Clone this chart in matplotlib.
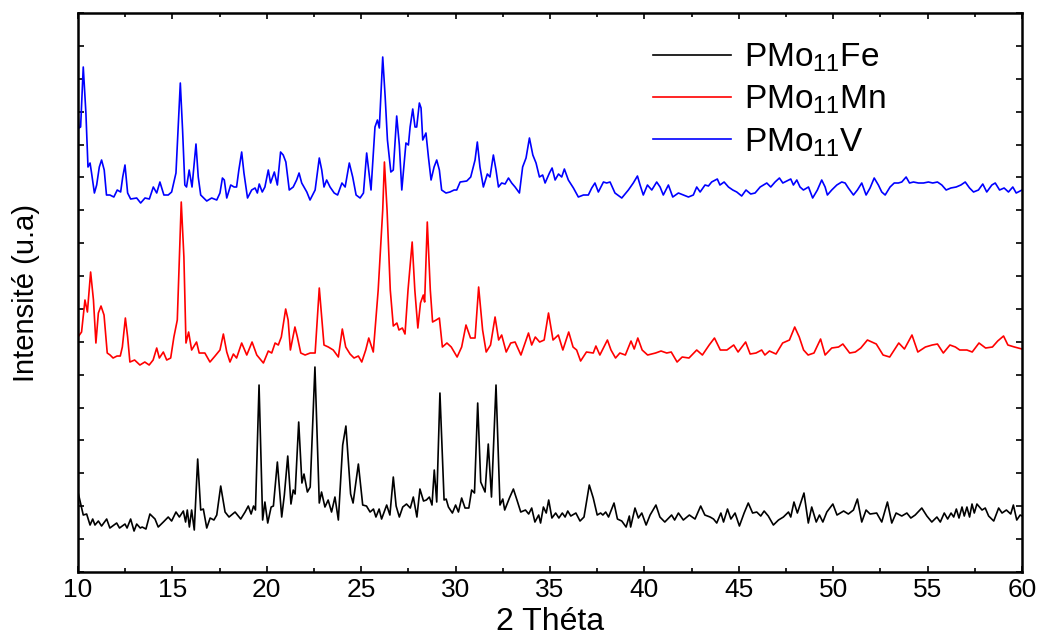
import numpy as np
import matplotlib
matplotlib.use('Agg')
import matplotlib.pyplot as plt
from matplotlib.ticker import MultipleLocator, NullFormatter

plt.rcParams['font.family'] = ['Liberation Sans', 'DejaVu Sans']
plt.rcParams['mathtext.fontset'] = 'custom'
plt.rcParams['mathtext.rm'] = 'Liberation Sans'
plt.rcParams['mathtext.it'] = 'Liberation Sans:italic'

# diffractogrammes (2 theta, intensite en u.a., courbes deja decalees)
fe_x = [10.0, 10.28, 10.46, 10.64, 10.78, 10.9, 11.08, 11.25, 11.52, 11.69, 12.05, 12.2, 12.49, 12.6,
        12.79, 12.97, 13.11, 13.3, 13.4, 13.6, 13.81, 14.08, 14.25, 14.52, 14.78, 14.96, 15.19, 15.37,
        15.58, 15.7, 15.79, 15.9, 16.02, 16.16, 16.34, 16.5, 16.64, 16.82, 17.0, 17.2, 17.35, 17.56,
        17.79, 18.0, 18.32, 18.62, 18.85, 19.02, 19.17, 19.3, 19.4, 19.59, 19.78, 19.9, 20.05, 20.23,
        20.35, 20.56, 20.79, 20.93, 21.11, 21.28, 21.4, 21.5, 21.69, 21.86, 21.97, 22.15, 22.3, 22.55,
        22.78, 22.9, 23.08, 23.25, 23.43, 23.61, 23.79, 24.02, 24.19, 24.44, 24.57, 24.85, 25.08, 25.28,
        25.47, 25.65, 25.78, 25.95, 26.08, 26.35, 26.52, 26.7, 26.85, 27.02, 27.2, 27.4, 27.6, 27.76,
        27.95, 28.11, 28.3, 28.45, 28.61, 28.75, 28.87, 29.0, 29.17, 29.39, 29.5, 29.62, 29.83, 30.0,
        30.15, 30.32, 30.5, 30.7, 30.85, 31.0, 31.17, 31.33, 31.56, 31.73, 31.9, 32.14, 32.35, 32.5,
        32.6, 32.85, 33.06, 33.25, 33.45, 33.7, 33.87, 34.03, 34.2, 34.4, 34.5, 34.65, 34.8, 34.93,
        35.1, 35.3, 35.47, 35.65, 35.8, 35.94, 36.1, 36.37, 36.59, 36.8, 37.08, 37.29, 37.5, 37.68,
        37.8, 37.95, 38.1, 38.39, 38.57, 38.8, 39.03, 39.2, 39.27, 39.5, 39.68, 39.86, 40.09, 40.3,
        40.61, 40.82, 41.08, 41.44, 41.6, 41.8, 42.06, 42.38, 42.68, 42.98, 43.2, 43.48, 43.66, 43.83,
        44.05, 44.19, 44.4, 44.58, 44.8, 45.03, 45.28, 45.5, 45.73, 45.95, 46.16, 46.34, 46.56, 46.83,
        47.1, 47.36, 47.63, 47.75, 47.92, 48.1, 48.45, 48.68, 48.86, 49.1, 49.27, 49.45, 49.66, 49.98,
        50.2, 50.55, 50.8, 51.07, 51.28, 51.51, 51.74, 51.95, 52.3, 52.57, 52.87, 53.1, 53.33, 53.63,
        53.9, 54.11, 54.34, 54.69, 54.96, 55.22, 55.49, 55.67, 55.88, 56.06, 56.24, 56.38, 56.52, 56.66,
        56.82, 56.94, 57.08, 57.22, 57.35, 57.47, 57.61, 57.88, 58.05, 58.23, 58.5, 58.76, 58.94, 59.17,
        59.4, 59.54, 59.72, 59.9, 60.0]
fe_y = [80, 57, 58, 47, 53, 47, 51, 46, 53, 44, 49, 44, 48, 44,
        53, 41, 48, 44, 45, 43, 58, 53, 45, 50, 55, 51, 60, 55,
        61, 50, 62, 45, 62, 42, 113, 62, 63, 44, 54, 52, 57, 86,
        60, 55, 60, 53, 60, 66, 58, 66, 62, 187, 52, 70, 49, 65,
        66, 110, 55, 77, 116, 68, 82, 78, 150, 89, 98, 80, 85, 205,
        69, 80, 65, 72, 60, 75, 52, 127, 146, 78, 69, 108, 67, 66,
        60, 63, 55, 63, 53, 67, 57, 95, 66, 55, 65, 68, 64, 75,
        55, 83, 71, 72, 75, 67, 102, 70, 179, 72, 73, 65, 59, 67,
        60, 74, 64, 64, 82, 79, 169, 90, 80, 128, 75, 187, 67, 73,
        62, 74, 83, 72, 60, 62, 58, 64, 50, 57, 49, 65, 59, 72,
        54, 59, 54, 59, 55, 61, 56, 59, 51, 55, 87, 74, 57, 59,
        57, 60, 55, 69, 53, 51, 45, 56, 45, 64, 54, 59, 47, 57,
        67, 55, 50, 57, 52, 59, 52, 57, 53, 66, 57, 55, 53, 49,
        59, 50, 63, 53, 59, 46, 59, 69, 59, 60, 56, 61, 56, 47,
        52, 55, 60, 55, 70, 59, 79, 49, 65, 50, 57, 50, 60, 68,
        57, 61, 58, 62, 73, 50, 62, 58, 59, 50, 70, 49, 59, 56,
        59, 54, 57, 64, 56, 50, 55, 50, 59, 53, 59, 55, 63, 54,
        65, 56, 65, 55, 68, 59, 68, 62, 64, 56, 51, 64, 59, 62,
        58, 67, 52, 57, 56]

mn_x = [10.0, 10.19, 10.37, 10.5, 10.67, 10.82, 10.95, 11.08, 11.22, 11.38, 11.55, 11.7, 11.86, 12.07,
        12.24, 12.35, 12.51, 12.63, 12.75, 13.0, 13.28, 13.54, 13.77, 13.98, 14.17, 14.31, 14.52, 14.7,
        14.91, 15.08, 15.26, 15.47, 15.61, 15.72, 15.86, 16.02, 16.28, 16.42, 16.72, 16.99, 17.26, 17.52,
        17.7, 17.88, 18.05, 18.23, 18.4, 18.67, 18.94, 19.22, 19.47, 19.82, 20.08, 20.26, 20.44, 20.61,
        20.77, 21.0, 21.13, 21.25, 21.49, 21.62, 21.8, 22.03, 22.3, 22.56, 22.78, 23.03, 23.26, 23.52,
        23.79, 24.0, 24.18, 24.41, 24.62, 24.85, 25.03, 25.24, 25.4, 25.64, 25.9, 26.14, 26.23, 26.37,
        26.54, 26.7, 26.89, 27.0, 27.18, 27.32, 27.48, 27.7, 27.84, 28.0, 28.14, 28.29, 28.36, 28.5,
        28.66, 28.78, 28.97, 29.14, 29.3, 29.54, 29.77, 30.08, 30.32, 30.55, 30.79, 31.03, 31.22, 31.43,
        31.62, 31.85, 32.09, 32.28, 32.44, 32.68, 32.92, 33.15, 33.46, 33.7, 33.86, 34.03, 34.22, 34.45,
        34.69, 34.92, 35.16, 35.44, 35.68, 35.99, 36.22, 36.41, 36.62, 36.93, 37.29, 37.43, 37.64, 38.04,
        38.23, 38.47, 38.7, 38.99, 39.29, 39.46, 39.65, 39.88, 40.17, 40.59, 40.88, 41.18, 41.42, 41.73,
        42.0, 42.36, 42.77, 43.07, 43.43, 43.71, 44.02, 44.37, 44.73, 44.96, 45.36, 45.6, 45.91, 46.21,
        46.38, 46.62, 46.97, 47.32, 47.68, 47.96, 48.2, 48.43, 48.67, 48.98, 49.33, 49.57, 49.92, 50.28,
        50.51, 50.87, 51.17, 51.46, 51.81, 52.05, 52.28, 52.64, 52.99, 53.16, 53.47, 53.77, 54.17, 54.48,
        54.88, 55.24, 55.52, 55.83, 56.18, 56.47, 56.7, 57.08, 57.36, 57.72, 58.07, 58.43, 58.71, 59.02,
        59.25, 59.6, 60.0]
mn_y = [235, 240, 272, 260, 300, 272, 229, 259, 266, 257, 219, 217, 214, 216,
        216, 225, 254, 235, 210, 212, 207, 210, 207, 212, 224, 214, 220, 212,
        214, 235, 252, 370, 315, 229, 240, 222, 230, 219, 219, 210, 216, 222,
        238, 220, 210, 218, 214, 229, 217, 230, 217, 209, 221, 219, 229, 227,
        235, 263, 252, 222, 245, 235, 219, 217, 219, 219, 284, 227, 225, 222,
        215, 243, 225, 218, 214, 216, 210, 222, 234, 220, 282, 362, 410, 362,
        282, 246, 249, 242, 244, 238, 282, 330, 282, 244, 269, 277, 270, 350,
        282, 250, 252, 254, 225, 229, 225, 215, 225, 247, 234, 234, 285, 242,
        220, 227, 255, 232, 237, 220, 229, 230, 217, 230, 239, 227, 235, 230,
        232, 259, 232, 237, 222, 240, 225, 222, 211, 220, 219, 226, 217, 232,
        222, 214, 219, 217, 231, 223, 234, 222, 217, 219, 221, 219, 220, 210,
        215, 214, 222, 217, 227, 234, 222, 222, 227, 220, 230, 218, 219, 222,
        217, 221, 218, 229, 232, 245, 235, 222, 217, 219, 233, 217, 224, 225,
        228, 219, 220, 224, 232, 230, 228, 217, 215, 220, 229, 223, 237, 220,
        225, 227, 228, 219, 227, 225, 222, 222, 220, 229, 224, 225, 231, 236,
        227, 225, 223]

v_x = [10.0, 10.05, 10.14, 10.28, 10.42, 10.53, 10.64, 10.72, 10.87, 10.99, 11.13, 11.25, 11.39, 11.51,
       11.69, 11.9, 12.08, 12.26, 12.37, 12.49, 12.63, 12.79, 13.11, 13.32, 13.55, 13.78, 13.99, 14.17,
       14.34, 14.55, 14.78, 14.96, 15.19, 15.42, 15.54, 15.66, 15.75, 15.89, 16.04, 16.25, 16.37, 16.5,
       16.82, 17.08, 17.35, 17.52, 17.65, 17.75, 17.88, 18.09, 18.27, 18.4, 18.52, 18.67, 18.79, 18.98,
       19.2, 19.38, 19.5, 19.6, 19.76, 19.9, 20.08, 20.2, 20.4, 20.56, 20.73, 20.87, 21.01, 21.19,
       21.4, 21.58, 21.71, 21.85, 22.12, 22.29, 22.56, 22.78, 22.91, 23.03, 23.17, 23.35, 23.57, 23.75,
       23.98, 24.15, 24.37, 24.55, 24.73, 24.94, 25.12, 25.29, 25.52, 25.73, 25.86, 25.96, 26.14, 26.27,
       26.39, 26.57, 26.7, 26.88, 27.02, 27.15, 27.37, 27.5, 27.59, 27.73, 27.85, 27.94, 28.08, 28.17,
       28.26, 28.43, 28.56, 28.7, 28.86, 29.0, 29.14, 29.26, 29.49, 29.7, 29.92, 30.06, 30.24, 30.59,
       30.8, 31.03, 31.15, 31.29, 31.47, 31.68, 31.82, 32.0, 32.14, 32.27, 32.44, 32.62, 32.8, 32.97,
       33.15, 33.38, 33.55, 33.73, 33.91, 34.09, 34.26, 34.44, 34.61, 34.74, 34.97, 35.11, 35.27, 35.45,
       35.62, 35.76, 35.97, 36.24, 36.5, 36.77, 37.03, 37.21, 37.38, 37.56, 37.83, 38.0, 38.18, 38.44,
       38.8, 39.15, 39.41, 39.63, 39.77, 39.94, 40.16, 40.39, 40.65, 40.83, 41.0, 41.27, 41.5, 41.8,
       42.06, 42.33, 42.59, 42.77, 42.95, 43.21, 43.39, 43.56, 43.86, 44.0, 44.22, 44.45, 44.68, 44.89,
       45.15, 45.38, 45.63, 45.86, 46.13, 46.3, 46.48, 46.69, 46.92, 47.15, 47.33, 47.54, 47.75, 47.89,
       48.07, 48.24, 48.42, 48.69, 48.91, 49.16, 49.39, 49.57, 49.69, 49.92, 50.19, 50.45, 50.63, 50.8,
       51.07, 51.28, 51.51, 51.74, 51.95, 52.17, 52.39, 52.57, 52.75, 53.01, 53.23, 53.45, 53.63, 53.86,
       54.04, 54.25, 54.51, 54.78, 55.04, 55.27, 55.52, 55.75, 55.98, 56.23, 56.51, 56.76, 56.99, 57.22,
       57.43, 57.69, 57.92, 58.13, 58.4, 58.58, 58.81, 59.05, 59.28, 59.51, 59.69, 59.9, 60.0]
v_y = [460, 444, 445, 505, 459, 405, 409, 399, 379, 387, 405, 412, 402, 377,
       377, 375, 382, 380, 395, 407, 379, 373, 374, 369, 374, 373, 385, 379,
       390, 377, 377, 380, 399, 489, 442, 387, 385, 402, 385, 428, 395, 377,
       371, 374, 372, 379, 394, 392, 374, 387, 385, 385, 402, 420, 399, 374,
       382, 384, 379, 388, 380, 385, 402, 389, 400, 387, 420, 417, 410, 382,
       385, 392, 399, 389, 380, 372, 382, 414, 402, 385, 392, 385, 379, 377,
       389, 385, 409, 395, 377, 374, 379, 419, 382, 445, 452, 444, 515, 475,
       432, 400, 402, 456, 427, 382, 429, 427, 445, 463, 445, 445, 469, 464,
       432, 439, 415, 392, 405, 412, 402, 382, 379, 380, 382, 382, 390, 391,
       395, 412, 430, 405, 385, 398, 395, 417, 402, 385, 389, 388, 394, 389,
       385, 379, 405, 414, 434, 417, 409, 395, 397, 389, 399, 404, 392, 398,
       395, 403, 392, 384, 375, 377, 377, 384, 389, 380, 390, 389, 390, 379,
       374, 382, 389, 396, 387, 377, 387, 382, 390, 385, 377, 387, 375, 379,
       377, 375, 377, 385, 380, 387, 386, 390, 393, 387, 390, 385, 382, 380,
       376, 382, 378, 379, 385, 387, 389, 385, 390, 394, 389, 391, 393, 387,
       392, 385, 382, 385, 374, 382, 392, 385, 377, 382, 387, 390, 389, 384,
       377, 382, 389, 377, 384, 394, 387, 380, 377, 385, 389, 389, 390, 395,
       389, 390, 389, 389, 390, 389, 390, 387, 382, 384, 385, 387, 390, 384,
       380, 382, 388, 380, 387, 389, 382, 384, 380, 385, 379, 381, 382]

fig = plt.figure(figsize=(10.41, 6.37), dpi=100)
ax = fig.add_axes([0.0749, 0.102, 0.9069, 0.8776])

ax.plot(fe_x, fe_y, color='black', lw=1.2, label='PMo$_{11}$Fe')
ax.plot(mn_x, mn_y, color='red', lw=1.2, label='PMo$_{11}$Mn')
ax.plot(v_x, v_y, color='blue', lw=1.2, label='PMo$_{11}$V')

ax.set_xlim(10, 60)
ax.set_ylim(0, 559)
ax.xaxis.set_major_locator(MultipleLocator(5))
ax.xaxis.set_minor_locator(MultipleLocator(2.5))
ax.yaxis.set_major_locator(MultipleLocator(559 / 17))
ax.yaxis.set_major_formatter(NullFormatter())
ax.tick_params(which='both', direction='in', top=True, right=True, width=1.2)
ax.tick_params(which='major', length=4, labelsize=19, pad=4)
ax.tick_params(which='minor', length=3)
for s in ax.spines.values():
    s.set_linewidth(1.8)

ax.set_xlabel('2 Théta', fontsize=23, labelpad=4)
ax.set_ylabel('Intensité (u.a)', fontsize=21, labelpad=23)

leg = ax.legend(loc='upper left', bbox_to_anchor=(0.577, 1.003), frameon=False, fontsize=24,
                handlelength=2.35, handletextpad=0.4, labelspacing=0.3)

fig.savefig('out.png', dpi=100)
